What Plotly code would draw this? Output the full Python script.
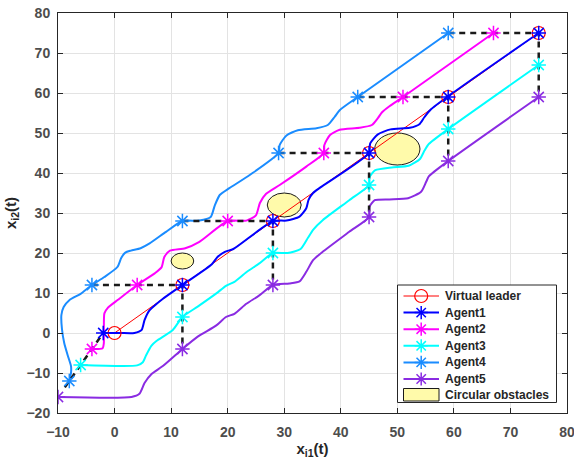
import plotly.graph_objects as go

# ---------------- data ----------------
leader_x = [0, 12, 28, 45, 59, 75]
leader_y = [0, 12, 28, 45, 59, 75]

a1_x = [-2, 1, 3.5, 4.8, 5.3, 6.2, 7.2, 8.5, 12, 17.2, 18.2, 19.5, 21, 28, 30.4, 32.7, 33.9, 34.3, 35.1, 36.4, 45, 45.2, 46.5, 48.8, 52.2, 53.9, 54.8, 56, 75]
a1_y = [0, 0, 0, 0.8, 3.2, 5.7, 7.0, 8.5, 12, 17.2, 19.0, 20.3, 21, 28, 28.1, 29.1, 31.2, 33.3, 35.0, 36.4, 45, 47.4, 49.6, 50.9, 51.3, 52.2, 54.0, 56, 75]
a1_mx = [-2, 12, 28, 45, 59, 75]
a1_my = [0, 12, 28, 45, 59, 75]

a2_x = [-4, -2.1, -1.9, -1.8, -1.2, 0.6, 4, 7.1, 8.3, 8.8, 9.8, 12.5, 15, 20, 23.3, 25, 25.7, 26.8, 29.2, 33.9, 37, 37.1, 38.1, 39.8, 43.3, 45.5, 46.6, 47.3, 48.6, 51, 67]
a2_y = [-4, -3.8, -2.6, 4.9, 6.3, 8.3, 12, 14.9, 16.4, 19, 20.6, 21.2, 22.8, 28, 28.1, 29.4, 32.5, 34.8, 37, 41.6, 45, 47, 49.5, 50.8, 51.3, 52.0, 53.8, 55.2, 56.7, 59, 75]
a2_mx = [-4, 4, 20, 37, 51, 67]
a2_my = [-4, 12, 28, 45, 59, 75]

a3_x = [-6, 4, 5, 5.6, 6.5, 7.4, 10.3, 12, 14.7, 18, 19.7, 21.2, 23.3, 25.6, 28, 30.6, 32.9, 34.2, 35.1, 36.8, 41.5, 45, 45.1, 46.1, 49, 52, 54, 54.8, 55.6, 59, 75]
a3_y = [-8, -8.1, -7.3, -5.5, -3.2, -2.0, 0.75, 4, 6.6, 9.9, 11.8, 12.8, 15.2, 17.4, 20, 20, 21, 23.8, 25.8, 28.2, 33.2, 37, 39, 40.7, 41.4, 41.8, 43.5, 45.6, 47.3, 51, 67]
a3_mx = [-6, 12, 28, 45, 59, 75]
a3_my = [-8, 4, 20, 37, 51, 67]

a4_x = [-8, -7.7, -7.7, -8.3, -8.9, -9.3, -9.4, -9.0, -8.0, -6.0, -4, -1.8, 0.5, 1.2, 1.9, 2.9, 4.6, 6.2, 9.1, 12, 15, 17, 17.7, 18.6, 20.3, 23.9, 29, 29.2, 30.4, 32.4, 35.7, 37.7, 38.9, 39.8, 43, 59]
a4_y = [-12, -10, -8.3, -5.5, -2.5, 1, 4.5, 6.5, 8.2, 9.8, 12, 14, 16.5, 18.8, 20.1, 20.6, 21.2, 22.4, 25.3, 28, 28.1, 29, 31.8, 34.5, 36.2, 39.5, 45, 47, 49.4, 50.7, 51.2, 52, 54, 55.7, 59, 75]
a4_mx = [-8, -4, 12, 29, 43, 59]
a4_my = [-12, 12, 28, 45, 59, 75]

a5_x = [-10, 3, 4.4, 5.3, 6.5, 8.6, 12, 14.7, 18, 19.7, 21.2, 23.3, 25.6, 28, 30.9, 32.7, 33.9, 35.1, 36.8, 41.5, 45, 45.1, 46, 48.6, 51.9, 54.2, 55.1, 55.6, 59, 75]
a5_y = [-16, -16, -15.2, -12.5, -10.3, -8.2, -4, -0.9, 1.9, 4, 4.8, 7.3, 9.4, 12, 12.4, 12.9, 15.3, 18.2, 20.3, 25.3, 29, 31.6, 33.2, 33.4, 33.7, 35.3, 37.8, 39.2, 43, 59]
a5_mx = [-10, 12, 28, 45, 59, 75]
a5_my = [-16, -4, 12, 29, 43, 59]

# formation (dashed) segments
form_x = [-8.8, -2, None, -4, 12, 12, None, 12, 28, 28, None, 29, 45, 45, None, 43, 59, 59, None, 59, 75, 75]
form_y = [-13.6, 0, None, 12, 12, -4, None, 28, 28, 12, None, 45, 45, 29, None, 59, 59, 43, None, 75, 75, 59]

# circular obstacles
obs_cx = [12, 30, 50]
obs_cy = [18, 32, 46]
obs_r = [2, 3, 4]

legend_names = ["Virtual leader", "Agent1", "Agent2", "Agent3", "Agent4", "Agent5", "Circular obstacles"]

names = ["Agent1", "Agent2", "Agent3", "Agent4", "Agent5"]
colors = ["#0000ff", "#ff00ff", "#00ffff", "#1a8cff", "#8a2be2"]
leader_color = "#ff0000"
obs_color = "#fffaaa"
paths = [(a1_x, a1_y), (a2_x, a2_y), (a3_x, a3_y), (a4_x, a4_y), (a5_x, a5_y)]
marks = [(a1_mx, a1_my), (a2_mx, a2_my), (a3_mx, a3_my), (a4_mx, a4_my), (a5_mx, a5_my)]

# ---------------- layout geometry (pixels) ----------------
W, H = 574, 461
PL, PR, PT, PB = 58.5, 567.5, 13, 413


def fx(px):
    return (px - PL) / (PR - PL)


def fy(py):
    return (PB - py) / (PB - PT)


FONT = "Arial, Liberation Sans"

fig = go.Figure()

# leader line
fig.add_trace(go.Scatter(x=leader_x, y=leader_y, mode="lines",
                         line=dict(color=leader_color, width=1), showlegend=False))
# agent paths
for (px, py), c in zip(paths, colors):
    fig.add_trace(go.Scatter(x=px, y=py, mode="lines",
                             line=dict(color=c, width=2, shape="spline", smoothing=0.6),
                             showlegend=False))
# dashed formation lines
fig.add_trace(go.Scatter(x=form_x, y=form_y, mode="lines",
                         line=dict(color="#1a1a1a", width=2.5, dash="6px,5px"), showlegend=False))
# leader markers
fig.add_trace(go.Scatter(x=leader_x, y=leader_y, mode="markers",
                         marker=dict(symbol="circle-open", size=13, color=leader_color,
                                     line=dict(width=1.2, color=leader_color)),
                         showlegend=False))
# agent markers (reverse so Agent1 on top)
for (mx, my), c in reversed(list(zip(marks, colors))):
    fig.add_trace(go.Scatter(x=mx, y=my, mode="markers",
                             marker=dict(symbol="asterisk-open", size=12, color=c, line=dict(width=1.5, color=c)),
                             showlegend=False))

for cx, cy, r in zip(obs_cx, obs_cy, obs_r):
    fig.add_shape(type="circle", xref="x", yref="y", x0=cx - r, x1=cx + r, y0=cy - r, y1=cy + r,
                  fillcolor=obs_color, line=dict(color="#1a1a1a", width=1), layer="between")

# ---------------- manual legend on an overlay axis (0..1 over the plot area) ----------------
bx0, bx1, by0, by1 = fx(398), fx(557), fy(402.5), fy(285)
fig.add_trace(go.Scatter(x=[bx0, bx1, bx1, bx0, bx0], y=[by0, by0, by1, by1, by0], mode="lines",
                         fill="toself", fillcolor="white", line=dict(color="#262626", width=1),
                         xaxis="x2", yaxis="y2", showlegend=False, hoverinfo="skip"))
row_py = [296, 312.6, 329.2, 345.8, 362.4, 379, 395]
sym_x0, sym_x1, sym_xc, txt_x = fx(404), fx(439.5), fx(421.7), fx(443)
leg_colors = [leader_color] + colors
for i, c in enumerate(leg_colors):
    yy = fy(row_py[i])
    fig.add_trace(go.Scatter(x=[sym_x0, sym_x1], y=[yy, yy], mode="lines",
                             line=dict(color=c, width=1 if i == 0 else 2),
                             xaxis="x2", yaxis="y2", showlegend=False, hoverinfo="skip"))
    if i == 0:
        mk = dict(symbol="circle-open", size=13, color=c, line=dict(width=1.2, color=c))
    else:
        mk = dict(symbol="asterisk-open", size=11, color=c, line=dict(width=1.5, color=c))
    fig.add_trace(go.Scatter(x=[sym_xc], y=[yy], mode="markers", marker=mk,
                             xaxis="x2", yaxis="y2", showlegend=False, hoverinfo="skip"))
# obstacle patch
py0, py1 = fy(401), fy(388.5)
fig.add_trace(go.Scatter(x=[sym_x0, sym_x1, sym_x1, sym_x0, sym_x0], y=[py0, py0, py1, py1, py0], mode="lines",
                         fill="toself", fillcolor=obs_color, line=dict(color="#1a1a1a", width=1),
                         xaxis="x2", yaxis="y2", showlegend=False, hoverinfo="skip"))
for i, n in enumerate(legend_names):
    fig.add_annotation(x=txt_x, y=fy(row_py[i]), xref="paper", yref="paper", text=n, showarrow=False,
                       xanchor="left", yanchor="middle",
                       font=dict(family=FONT, size=12, color="#262626", weight="bold"))

axis_common = dict(showgrid=True, gridcolor="#e3e3e3", gridwidth=1, zeroline=False,
                   showline=True, linecolor="#262626", linewidth=1, mirror="ticks",
                   ticks="inside", ticklen=5, tickcolor="#262626", ticklabeloverflow="allow",
                   tickfont=dict(family=FONT, size=14, color="#4d4d4d", weight="bold"))

xaxis = dict(range=[-10, 80], dtick=10, tick0=-10, ticklabelstandoff=6,
             title=dict(text="x<sub>i1</sub>(t)", standoff=4,
                        font=dict(family=FONT, size=15, color="#262626", weight="bold")),
             **axis_common)
yaxis = dict(range=[-20, 80], dtick=10, tick0=-20, ticklabelstandoff=4,
             title=dict(text="x<sub>i2</sub>(t)", standoff=6,
                        font=dict(family=FONT, size=15, color="#262626", weight="bold")),
             **axis_common)

fig.update_layout(width=W, height=H, margin=dict(l=58, r=7, t=13, b=48, autoexpand=False),
                  plot_bgcolor="white", paper_bgcolor="white", showlegend=False,
                  xaxis=xaxis, yaxis=yaxis,
                  xaxis2=dict(overlaying="x", range=[0, 1], visible=False, fixedrange=True),
                  yaxis2=dict(overlaying="y", range=[0, 1], visible=False, fixedrange=True))

fig.write_html("out.html")
